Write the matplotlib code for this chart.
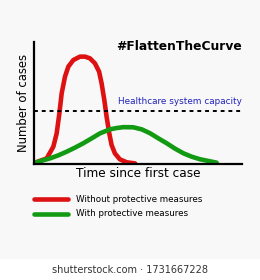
import matplotlib.pyplot as plt
from matplotlib.patches import Rectangle

# curve readings (x: time 0-100, y: cases 0-100)
red_x = [0.5, 6.1, 9.3, 10.9, 12.2, 13.3, 14.9, 16.5, 18.9, 22.1, 24.5, 26.9,
         29.3, 31.3, 32.5, 33.8, 34.9, 36.2, 37.3, 38.9, 41.3, 44.6, 48.6]
red_y = [1.1, 4.6, 14.2, 25.1, 41.5, 57.9, 71.6, 79.8, 85.2, 88.0, 88.0, 86.6,
         82.5, 75.7, 66.1, 52.5, 38.8, 25.1, 15.6, 8.7, 3.8, 1.4, 0.5]
green_x = [0.5, 3.7, 7.7, 11.7, 15.7, 19.7, 23.7, 27.7, 31.7, 36.5, 39.8, 42.9,
           47.7, 51.8, 55.8, 59.8, 63.8, 67.8, 71.8, 75.8, 79.8, 83.8, 87.8]
green_y = [1.1, 2.7, 4.6, 7.1, 10.1, 13.4, 17.0, 21.0, 25.1, 28.4, 29.5, 30.2,
           30.1, 28.4, 25.2, 21.0, 17.0, 12.6, 8.8, 6.0, 3.9, 2.5, 1.1]
capacity = 43.4

red = '#dd1111'
green = '#139a13'

fig = plt.figure(figsize=(2.6, 2.8), dpi=100)
fig.patch.set_facecolor('white')
fig.patches.append(Rectangle((0, 21 / 280), 1, 259 / 280, transform=fig.transFigure,
                             facecolor='#f8f8f8', edgecolor='none', zorder=-5))

ax = fig.add_axes([34 / 260, 116 / 280, 208 / 260, 122 / 280])
ax.set_facecolor('none')
ax.plot(red_x, red_y, color=red, lw=3.3, solid_capstyle='round', solid_joinstyle='round')
ax.plot(green_x, green_y, color=green, lw=3.3, solid_capstyle='round', solid_joinstyle='round')
ax.axhline(capacity, color='black', lw=1.4, ls=(0, (2, 2)))
ax.text(100, capacity + 4, 'Healthcare system capacity', color='#2222bb',
        fontsize=6.4, ha='right', va='bottom')
ax.text(100, 96, '#FlattenTheCurve', fontsize=8.8, fontweight='bold',
        ha='right', va='center')

ax.set_xlim(0, 100)
ax.set_ylim(0, 100)
ax.set_xticks([])
ax.set_yticks([])
for s in ['top', 'right']:
    ax.spines[s].set_visible(False)
for s in ['left', 'bottom']:
    ax.spines[s].set_linewidth(1.6)
ax.set_xlabel('Time since first case', fontsize=8.7, labelpad=2)
ax.set_ylabel('Number of cases', fontsize=8.4, labelpad=3)

# legend drawn by hand below the axes
fig.add_artist(plt.Line2D([34 / 260, 68 / 260], [1 - 199 / 280] * 2, color=red, lw=3.3,
                          solid_capstyle='round'))
fig.add_artist(plt.Line2D([34 / 260, 68 / 260], [1 - 214 / 280] * 2, color=green, lw=3.3,
                          solid_capstyle='round'))
fig.text(76 / 260, 1 - 199 / 280, 'Without protective measures', fontsize=6.3, va='center')
fig.text(76 / 260, 1 - 214 / 280, 'With protective measures', fontsize=6.3, va='center')

fig.text(0.5, 1 - 270 / 280, 'shutterstock.com \u00b7 1731667228', fontsize=7,
         color='#333333', ha='center', va='center')

fig.savefig('out.png', dpi=100, facecolor=fig.get_facecolor())
